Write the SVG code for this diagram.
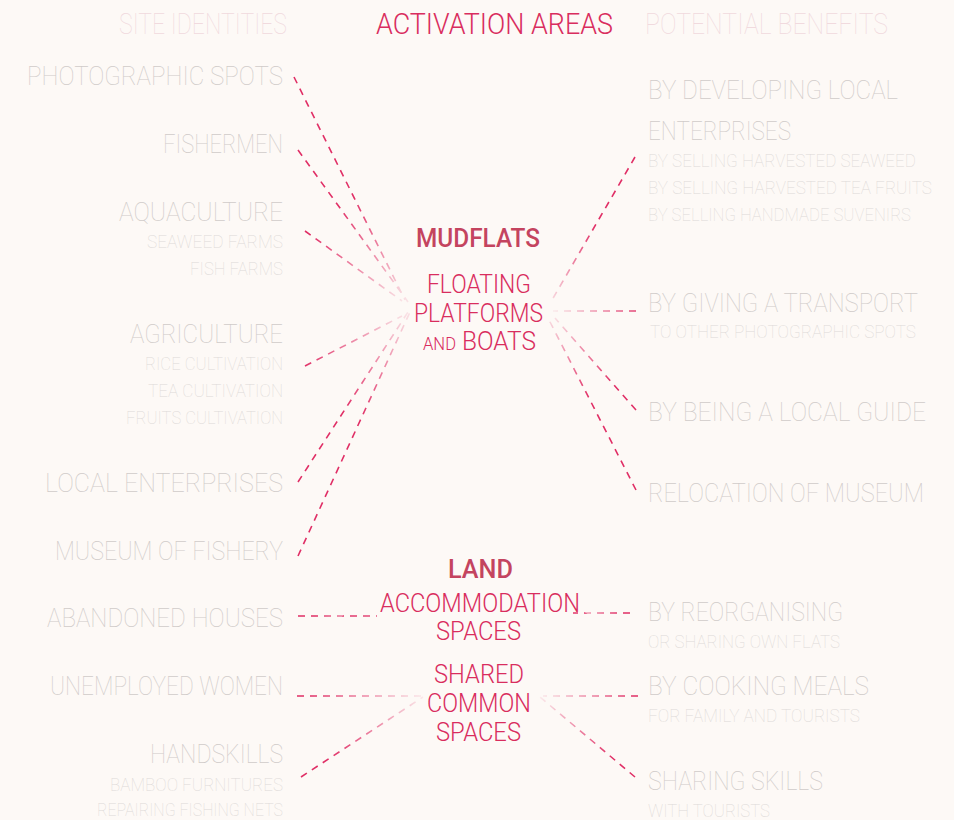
<svg xmlns="http://www.w3.org/2000/svg" width="954" height="820" viewBox="0 0 954 820">
<style>
text{font-family:Roboto,"Open Sans","Liberation Sans",sans-serif;}
.hd{font-size:29px;font-weight:100;fill:#f1dade;}
.hc{font-size:29px;font-weight:300;fill:#d92d5e;}
.big{font-size:25px;font-weight:100;fill:#d0cbc9;}
.sm{font-size:18px;font-weight:100;fill:#dedad8;}
.l{text-anchor:end;}
.ct{font-size:26px;font-weight:300;fill:#d92d5e;text-anchor:middle;}
.cs{font-size:26px;font-weight:300;fill:#d92d5e;}
.cx{font-size:18px;font-weight:300;fill:#d92d5e;}
.cb{font-size:25px;font-weight:500;fill:#c4445f;text-anchor:middle;}
.cn line{stroke:#e02f66;stroke-width:1.6;stroke-dasharray:7 6;fill:none;}
</style>
<defs>
<radialGradient id="fade"><stop offset="0" stop-color="#101010"/><stop offset="1" stop-color="#ffffff"/></radialGradient>
<mask id="m" maskUnits="userSpaceOnUse" x="0" y="0" width="954" height="820">
<rect width="954" height="820" fill="#fff"/>
<circle cx="405" cy="307" r="120" fill="url(#fade)"/>
<circle cx="553" cy="311" r="95" fill="url(#fade)"/>
<circle cx="385" cy="616" r="70" fill="url(#fade)"/>
<circle cx="565" cy="613" r="55" fill="url(#fade)"/>
<circle cx="425" cy="696" r="115" fill="url(#fade)"/>
<circle cx="540" cy="696" r="95" fill="url(#fade)"/>
</mask>
</defs>
<rect width="954" height="820" fill="#fdf9f6"/>
<g id="headers">
<text class="hd" x="287" y="34" text-anchor="end" textLength="168" lengthAdjust="spacingAndGlyphs">SITE IDENTITIES</text>
<text class="hc" x="376" y="34" textLength="237" lengthAdjust="spacingAndGlyphs">ACTIVATION AREAS</text>
<text class="hd" x="645" y="34" textLength="243" lengthAdjust="spacingAndGlyphs">POTENTIAL BENEFITS</text>
</g>
<g id="connectors" class="cn" mask="url(#m)">
<line x1="294" y1="77" x2="405" y2="300"/>
<line x1="298" y1="150" x2="408" y2="302"/>
<line x1="305" y1="231" x2="402" y2="301"/>
<line x1="305" y1="366" x2="402" y2="316"/>
<line x1="298" y1="482" x2="408" y2="312"/>
<line x1="298" y1="556" x2="410" y2="312"/>
<line x1="635" y1="157" x2="552" y2="300"/>
<line x1="636" y1="311" x2="553" y2="311"/>
<line x1="636" y1="410" x2="555" y2="318"/>
<line x1="636" y1="490" x2="548" y2="318"/>
<line x1="298" y1="616" x2="377" y2="616"/>
<line x1="630" y1="613" x2="573" y2="613"/>
<line x1="297" y1="696" x2="424" y2="696"/>
<line x1="638" y1="696" x2="543" y2="696"/>
<line x1="301" y1="777" x2="423" y2="697"/>
<line x1="635" y1="777" x2="540" y2="697"/>
</g>
<g id="site-photographic"><text class="big l" x="283" y="85" textLength="256" lengthAdjust="spacingAndGlyphs">PHOTOGRAPHIC SPOTS</text></g>
<g id="site-fishermen"><text class="big l" x="283" y="153" textLength="120" lengthAdjust="spacingAndGlyphs">FISHERMEN</text></g>
<g id="site-aquaculture">
<text class="big l" x="283" y="221" textLength="164" lengthAdjust="spacingAndGlyphs">AQUACULTURE</text>
<text class="sm l" x="283" y="248" textLength="136" lengthAdjust="spacingAndGlyphs">SEAWEED FARMS</text>
<text class="sm l" x="283" y="275" textLength="93" lengthAdjust="spacingAndGlyphs">FISH FARMS</text>
</g>
<g id="site-agriculture">
<text class="big l" x="283" y="343" textLength="153" lengthAdjust="spacingAndGlyphs">AGRICULTURE</text>
<text class="sm l" x="283" y="370" textLength="138" lengthAdjust="spacingAndGlyphs">RICE CULTIVATION</text>
<text class="sm l" x="283" y="397" textLength="135" lengthAdjust="spacingAndGlyphs">TEA CULTIVATION</text>
<text class="sm l" x="283" y="424" textLength="157" lengthAdjust="spacingAndGlyphs">FRUITS CULTIVATION</text>
</g>
<g id="site-local-enterprises"><text class="big l" x="283" y="492" textLength="238" lengthAdjust="spacingAndGlyphs">LOCAL ENTERPRISES</text></g>
<g id="site-museum"><text class="big l" x="283" y="560" textLength="228" lengthAdjust="spacingAndGlyphs">MUSEUM OF FISHERY</text></g>
<g id="site-abandoned"><text class="big l" x="283" y="627" textLength="236" lengthAdjust="spacingAndGlyphs">ABANDONED HOUSES</text></g>
<g id="site-women"><text class="big l" x="283" y="695" textLength="233" lengthAdjust="spacingAndGlyphs">UNEMPLOYED WOMEN</text></g>
<g id="site-handskills">
<text class="big l" x="283" y="763" textLength="133" lengthAdjust="spacingAndGlyphs">HANDSKILLS</text>
<text class="sm l" x="283" y="791" textLength="173" lengthAdjust="spacingAndGlyphs">BAMBOO FURNITURES</text>
<text class="sm l" x="283" y="816" textLength="186" lengthAdjust="spacingAndGlyphs">REPAIRING FISHING NETS</text>
</g>
<g id="mudflats">
<text class="cb" x="478" y="247" textLength="124" lengthAdjust="spacingAndGlyphs">MUDFLATS</text>
<text class="ct" x="479" y="293" textLength="104" lengthAdjust="spacingAndGlyphs">FLOATING</text>
<text class="ct" x="478.5" y="322" textLength="129" lengthAdjust="spacingAndGlyphs">PLATFORMS</text>
<text class="cx" x="423" y="350" textLength="33" lengthAdjust="spacingAndGlyphs">AND</text>
<text class="cs" x="462" y="350" textLength="74" lengthAdjust="spacingAndGlyphs">BOATS</text>
</g>
<g id="land">
<text class="cb" x="480.5" y="578" textLength="65" lengthAdjust="spacingAndGlyphs">LAND</text>
</g>
<g id="accommodation">
<text class="ct" x="480" y="612" textLength="200" lengthAdjust="spacingAndGlyphs">ACCOMMODATION</text>
<text class="ct" x="478.5" y="640" textLength="85" lengthAdjust="spacingAndGlyphs">SPACES</text>
</g>
<g id="shared">
<text class="ct" x="479" y="683" textLength="90" lengthAdjust="spacingAndGlyphs">SHARED</text>
<text class="ct" x="479" y="712" textLength="104" lengthAdjust="spacingAndGlyphs">COMMON</text>
<text class="ct" x="478.5" y="741" textLength="85" lengthAdjust="spacingAndGlyphs">SPACES</text>
</g>
<g id="benefit-developing">
<text class="big" x="648" y="99" textLength="250" lengthAdjust="spacingAndGlyphs">BY DEVELOPING LOCAL</text>
<text class="big" x="648" y="140" textLength="143" lengthAdjust="spacingAndGlyphs">ENTERPRISES</text>
<text class="sm" x="648" y="167" textLength="268" lengthAdjust="spacingAndGlyphs">BY SELLING HARVESTED SEAWEED</text>
<text class="sm" x="648" y="194" textLength="284" lengthAdjust="spacingAndGlyphs">BY SELLING HARVESTED TEA FRUITS</text>
<text class="sm" x="648" y="221" textLength="263" lengthAdjust="spacingAndGlyphs">BY SELLING HANDMADE SUVENIRS</text>
</g>
<g id="benefit-transport">
<text class="big" x="648" y="312" textLength="270" lengthAdjust="spacingAndGlyphs">BY GIVING A TRANSPORT</text>
<text class="sm" x="650" y="338" textLength="266" lengthAdjust="spacingAndGlyphs">TO OTHER PHOTOGRAPHIC SPOTS</text>
</g>
<g id="benefit-guide"><text class="big" x="648" y="421" textLength="278" lengthAdjust="spacingAndGlyphs">BY BEING A LOCAL GUIDE</text></g>
<g id="benefit-museum"><text class="big" x="648" y="502" textLength="276" lengthAdjust="spacingAndGlyphs">RELOCATION OF MUSEUM</text></g>
<g id="benefit-reorganising">
<text class="big" x="648" y="621" textLength="195" lengthAdjust="spacingAndGlyphs">BY REORGANISING</text>
<text class="sm" x="648" y="648" textLength="192" lengthAdjust="spacingAndGlyphs">OR SHARING OWN FLATS</text>
</g>
<g id="benefit-cooking">
<text class="big" x="648" y="695" textLength="221" lengthAdjust="spacingAndGlyphs">BY COOKING MEALS</text>
<text class="sm" x="648" y="722" textLength="212" lengthAdjust="spacingAndGlyphs">FOR FAMILY AND TOURISTS</text>
</g>
<g id="benefit-sharing">
<text class="big" x="648" y="790" textLength="175" lengthAdjust="spacingAndGlyphs">SHARING SKILLS</text>
<text class="sm" x="648" y="817" textLength="122" lengthAdjust="spacingAndGlyphs">WITH TOURISTS</text>
</g>
</svg>
